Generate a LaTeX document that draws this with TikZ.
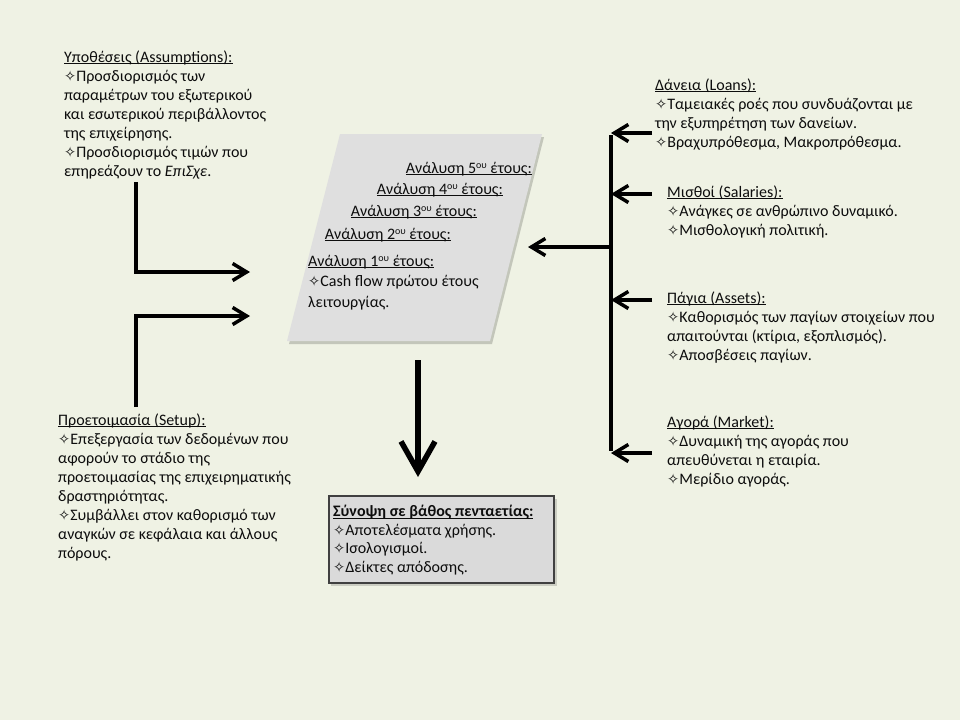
\documentclass[tikz,border=0pt]{standalone}
\usepackage{fontspec}
\setmainfont{Carlito}
\newfontfamily\dvfont{DejaVu Sans}
\usetikzlibrary{arrows.meta}
\definecolor{bg}{HTML}{EFF2E4}
\definecolor{parfill}{HTML}{DFDFDF}
\definecolor{boxfill}{HTML}{DADADA}
\definecolor{boxline}{HTML}{404040}
\definecolor{txt}{HTML}{0D0D0D}
\newcommand\fs{\fontsize{16}{19}\selectfont}
\newcommand\stx{{\dvfont\fontsize{14.5}{12}\selectfont ✧}}
\newcommand\ordsup[1]{\raisebox{0.62ex}{\fontsize{10}{10}\selectfont #1}}
\newcommand\ttl[1]{\leavevmode\setbox0\hbox{#1}\rlap{\rule[-2.2pt]{\wd0}{0.9pt}}\box0}
\begin{document}
\begin{tikzpicture}[x=1pt,y=-1pt,
  txt/.style={anchor=base west, align=left, inner sep=0pt, font=\fs, text=txt},
  rtxt/.style={anchor=base east, align=right, inner sep=0pt, font=\fs, text=txt},
  arr/.style={line width=3.5pt, line join=miter, -{Straight Barb[length=14pt,width=17pt]}},
  bigarr/.style={line width=5.5pt, -{Straight Barb[length=30pt,width=34pt]}},
  brk/.style={line width=3.5pt}]
\fill[bg] (0,0) rectangle (960,720);
\useasboundingbox (0,0) rectangle (960,720);

% parallelogram
\coordinate (p1) at (340,134);
\coordinate (p2) at (542,134);
\coordinate (p3) at (490,341);
\coordinate (p4) at (287,341);
\fill[black,opacity=0.18] ([shift={(2,3)}]p1) -- ([shift={(2,3)}]p2) -- ([shift={(2,3)}]p3) -- ([shift={(2,3)}]p4) -- cycle;
\fill[parfill] (p1) -- (p2) -- (p3) -- (p4) -- cycle;

% (multi-line nodes: base anchor = last line's baseline)
\node[rtxt] (y5) at (532,173) {\ttl{Ανάλυση 5\ordsup{ου} έτους:}};
\node[rtxt] (y4) at (503,194) {\ttl{Ανάλυση 4\ordsup{ου} έτους:}};
\node[rtxt] (y3) at (477,216) {\ttl{Ανάλυση 3\ordsup{ου} έτους:}};
\node[rtxt] (y2) at (451,239) {\ttl{Ανάλυση 2\ordsup{ου} έτους:}};
\node[txt,font=\fontsize{16}{20.5}\selectfont] (y1) at (308,307) {\ttl{Ανάλυση 1\ordsup{ου} έτους:}\\
\stx Cash flow πρώτου έτους\\
λειτουργίας.};

% left texts
\node[txt] (assump) at (64,176) {\ttl{Υποθέσεις (Assumptions):}\\
\stx Προσδιορισμός των\\
παραμέτρων του εξωτερικού\\
και εσωτερικού περιβάλλοντος\\
της επιχείρησης.\\
\stx Προσδιορισμός τιμών που\\
επηρεάζουν το \textit{ΕπιΣχε}.};

\node[txt] (setup) at (58,558) {\ttl{Προετοιμασία (Setup):}\\
\stx Επεξεργασία των δεδομένων που\\
αφορούν το στάδιο της\\
προετοιμασίας της επιχειρηματικής\\
δραστηριότητας.\\
\stx Συμβάλλει στον καθορισμό των\\
αναγκών σε κεφάλαια και άλλους\\
πόρους.};

% right texts
\node[txt] (loans) at (655,147) {\ttl{Δάνεια (Loans):}\\
\stx Ταμειακές ροές που συνδυάζονται με\\
την εξυπηρέτηση των δανείων.\\
\stx Βραχυπρόθεσμα, Μακροπρόθεσμα.};

\node[txt] (salaries) at (667,235) {\ttl{Μισθοί (Salaries):}\\
\stx Ανάγκες σε ανθρώπινο δυναμικό.\\
\stx Μισθολογική πολιτική.};

\node[txt] (assets) at (667,360) {\ttl{Πάγια (Assets):}\\
\stx Καθορισμός των παγίων στοιχείων που\\
απαιτούνται (κτίρια, εξοπλισμός).\\
\stx Αποσβέσεις παγίων.};

\node[txt] (market) at (667,484) {\ttl{Αγορά (Market):}\\
\stx Δυναμική της αγοράς που\\
απευθύνεται η εταιρία.\\
\stx Μερίδιο αγοράς.};

% summary box
\fill[black,opacity=0.15] (331,499) rectangle (557,586);
\node[draw=boxline, line width=1.3pt, fill=boxfill, minimum width=225pt, minimum height=87pt, inner sep=0pt] (sumbox) at (441.5,539.5) {};
\node[txt,font=\fontsize{16}{18.5}\selectfont] (sumtxt) at (333,572) {\ttl{\textbf{Σύνοψη σε βάθος πενταετίας:}}\\
\stx Αποτελέσματα χρήσης.\\
\stx Ισολογισμοί.\\
\stx Δείκτες απόδοσης.};

% arrows left
\coordinate (a1s) at (136,182);
\coordinate (a1e) at (250,272);
\coordinate (a2s) at (136,407);
\coordinate (a2e) at (250,316);
\draw[arr] (a1s) |- (a1e);
\draw[arr] (a2s) |- (a2e);

% down arrow
\coordinate (ds) at (418,360);
\coordinate (de) at (418,477);
\draw[bigarr] (ds) -- (de);

% right bracket
\coordinate (bt) at (611,133);
\coordinate (bb) at (611,453);
\coordinate (bm) at (611,247);
\coordinate (bs) at (611,194);
\coordinate (ba) at (611,300);
\coordinate (pm) at (528,247);
\draw[brk] ([yshift=-1.75pt]bt) -- ([yshift=1.75pt]bb);
\draw[arr] (652,133) -- (bt);
\draw[arr] (652,194) -- (bs);
\draw[arr] (652,300) -- (ba);
\draw[arr] (652,453) -- (bb);
\draw[arr] (bm) -- (pm);
\end{tikzpicture}
\end{document}
